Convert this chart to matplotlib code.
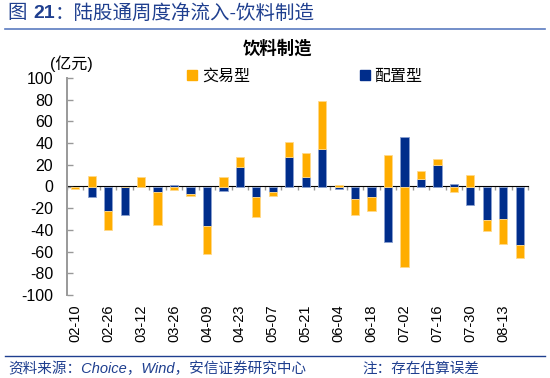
import numpy as np
import matplotlib
matplotlib.use('Agg')
import matplotlib.pyplot as plt
from matplotlib.lines import Line2D

plt.rcParams['font.family'] = ['Liberation Sans', 'Noto Sans CJK SC']
plt.rcParams['axes.unicode_minus'] = False

# 周度日期（每两周显示一个标签）
weeks = ['02-10', '02-19', '02-26', '03-05', '03-12', '03-19', '03-26', '04-02',
         '04-09', '04-16', '04-23', '04-30', '05-07', '05-14', '05-21', '05-28',
         '06-04', '06-11', '06-18', '06-25', '07-02', '07-09', '07-16', '07-23',
         '07-30', '08-06', '08-13', '08-20']
# 配置型（亿元）
peizhi = [-0.5, -10, -23, -26, 0, -5.5, 1.5, -7, -36, -4.6, 17.8, -9.8, -5.5, 27.6,
          8.3, 34.4, -2.5, -11.7, -9.8, -50.7, 45.8, 6.8, 19.7, 2.2, -17.5, -31.3,
          -30.1, -53.8]
# 交易型（亿元）
jiaoyi = [-2, 10, -17.5, 0, 9.2, -30, -3.5, -2, -26.5, 8.6, 9, -18, -3.5, 13,
          22.7, 44, 1.5, -14.5, -13, 28.9, -74.6, 7.3, 5.8, -5.2, 10.8, -9.6,
          -23, -12.3]

orange = '#FFAD00'
navy = '#002D8B'
blue_txt = '#1F3F8F'

x = np.arange(len(weeks))
pz = np.array(peizhi)
jy = np.array(jiaoyi)
bottom = np.where(np.sign(pz) == np.sign(jy), pz, 0)

fig = plt.figure(figsize=(5.5, 3.78), dpi=100)
ax = fig.add_axes([67 / 550, 1 - 295 / 378, (528 - 67) / 550, (295 - 78) / 378])

ax.bar(x, pz, width=0.5, color=navy, edgecolor='#8AA0D0', linewidth=0.6, label='配置型', zorder=2)
ax.bar(x, jy, width=0.5, bottom=bottom, color=orange, edgecolor='#FFD98A', linewidth=0.6,
       label='交易型', zorder=2)

ax.set_xlim(-0.5, len(weeks) - 0.5)
ax.set_ylim(-100, 100)
ax.set_yticks(np.arange(-100, 101, 20))
ax.tick_params(axis='y', direction='in', length=4, width=1, color='#999999',
               labelsize=11.5, pad=10)
ax.set_xticks(x[::2])
ax.set_xticklabels(weeks[::2], rotation=90, fontsize=10.5)
ax.tick_params(axis='x', length=0, pad=7)

for s in ['top', 'right', 'bottom']:
    ax.spines[s].set_visible(False)
ax.spines['left'].set_color('#999999')
ax.spines['left'].set_linewidth(1.4)

# 零轴及分类刻度
sec = ax.secondary_xaxis(0.5)
sec.set_xticks(np.arange(-0.5, len(weeks), 1))
sec.set_xticklabels([])
sec.tick_params(direction='in', length=3, width=1, color='#999999')
sec.spines['bottom'].set_color('#999999')
sec.spines['bottom'].set_linewidth(1.4)

# 图例
handles = [plt.Rectangle((0, 0), 1, 1, color=orange), plt.Rectangle((0, 0), 1, 1, color=navy)]
fig.legend(handles, ['交易型', '配置型'], loc='center left', bbox_to_anchor=(173 / 550, 1 - 76 / 378),
           ncol=2, frameon=False, fontsize=11.5, handlelength=0.6, handleheight=0.6,
           handletextpad=0.3, columnspacing=6.9)

fig.text(50 / 550, 1 - 64 / 378, '(亿元)', fontsize=11.5, va='center', ha='left')
fig.text(0.504, 1 - 48 / 378, '饮料制造', fontsize=12.5, fontweight='bold', ha='center', va='center')

# 顶部标题
t1 = fig.text(8 / 550, 1 - 13 / 378, '图 ', fontsize=14, color=blue_txt, va='center')
t2 = fig.text(0, 0, '21', fontsize=14, color=blue_txt, fontweight='bold', va='center')
t3 = fig.text(0, 0, '：陆股通周度净流入-饮料制造', fontsize=14, color=blue_txt, va='center')
fig.canvas.draw()
r = fig.canvas.get_renderer()
bb = t1.get_window_extent(r).transformed(fig.transFigure.inverted())
t2.set_position((bb.x1, 1 - 13 / 378))
bb = t2.get_window_extent(r).transformed(fig.transFigure.inverted())
t3.set_position((bb.x1, 1 - 13 / 378))

fig.add_artist(Line2D([5 / 550, 545 / 550], [1 - 29 / 378] * 2, color='#5B7BC0', linewidth=1.2))
fig.add_artist(Line2D([5 / 550, 545 / 550], [1 - 356 / 378] * 2, color=blue_txt, linewidth=1.0))

fig.text(8 / 550, 1 - 369 / 378, '资料来源：Choice，Wind，安信证券研究中心', fontsize=10.5,
         color=blue_txt, style='italic', va='center')
fig.text(362 / 550, 1 - 369 / 378, '注：存在估算误差', fontsize=10.5, color=blue_txt,
         style='italic', va='center')

fig.savefig('out.png', dpi=100)
